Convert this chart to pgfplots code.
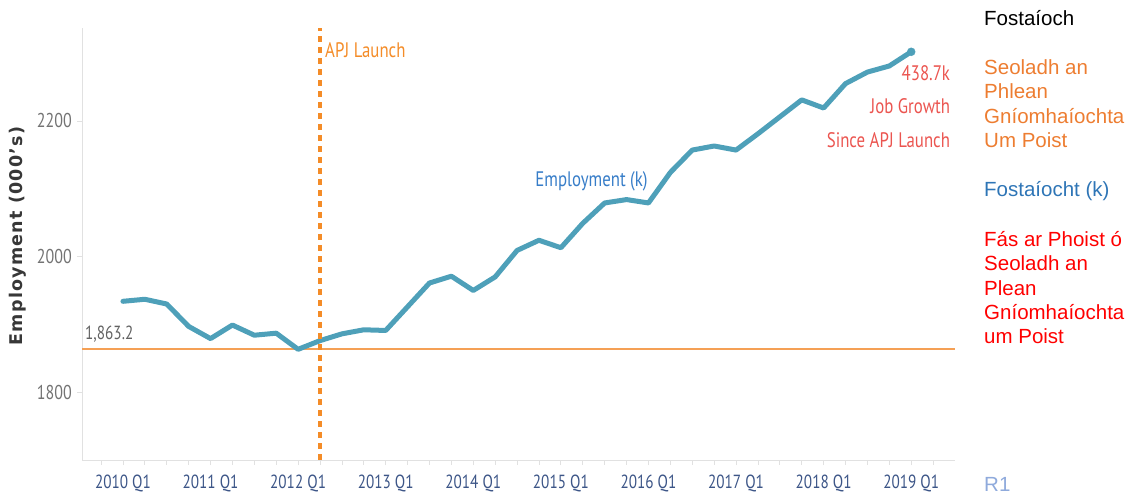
\documentclass[border=0pt]{standalone}
\usepackage{fontspec}
\usepackage{pgfplots}
\usepackage{pgfplotstable}
\pgfplotsset{compat=1.18}
\setmainfont{Liberation Sans}
\newfontfamily\tabfont[FakeStretch=0.8]{PT Sans}
\newfontfamily\ylabfont[LetterSpace=7]{DejaVu Sans}

\definecolor{tealline}{RGB}{78,160,185}
\definecolor{apjorange}{RGB}{244,140,40}
\definecolor{hlorange}{RGB}{245,160,85}
\definecolor{annred}{RGB}{235,85,80}
\definecolor{empblue}{RGB}{55,125,200}
\definecolor{ytickcol}{RGB}{115,115,115}
\definecolor{xtickcol}{RGB}{60,85,135}
\definecolor{axisgray}{RGB}{225,225,225}
\definecolor{ylabcol}{RGB}{55,55,55}
\definecolor{lgorange}{RGB}{237,125,49}
\definecolor{lgblue}{RGB}{46,117,182}
\definecolor{lgred}{RGB}{255,0,0}
\definecolor{rone}{RGB}{143,170,220}

\pgfplotstableread{
q emp
0 1934
1 1937
2 1930
3 1897
4 1879
5 1899
6 1884
7 1887
8 1863.2
9 1876
10 1886
11 1892
12 1891
13 1926
14 1961
15 1971
16 1950
17 1970
18 2009
19 2024
20 2013
21 2049
22 2079
23 2084
24 2079
25 2124
26 2157
27 2163
28 2157
29 2181
30 2206
31 2231
32 2219
33 2255
34 2272
35 2281
36 2301.9
}\empdata

\pgfplotstableread{
x y
-1.87 1863.2
38 1863.2
}\hline

\pgfplotstableread{
x y
9 1700
9 2337
}\vline

\begin{document}
\begin{tikzpicture}
\path[use as bounding box] (0,0) rectangle (1144bp,500bp);
\begin{axis}[
  at={(82bp,40bp)}, anchor=south west,
  width=873bp, height=432bp, scale only axis,
  xmin=-1.87, xmax=38, ymin=1700, ymax=2337,
  axis x line*=bottom, axis y line*=left,
  every outer x axis line/.append style={-},
  every outer y axis line/.append style={-},
  axis line style={draw=axisgray, line width=0.8bp},
  xtick={0,4,...,36},
  xticklabels={2010 Q1,2011 Q1,2012 Q1,2013 Q1,2014 Q1,2015 Q1,2016 Q1,2017 Q1,2018 Q1,2019 Q1},
  minor xtick={-1,0,...,37},
  ytick={1800,2000,2200}, yticklabels={1800,2000,2200},
  tick align=outside, major tick length=5bp, minor tick length=5bp,
  tick style={draw=axisgray, line width=0.8bp},
  xticklabel style={font=\tabfont\fontsize{19bp}{19bp}\selectfont, text=xtickcol, inner sep=0pt, yshift=-10bp},
  yticklabel style={font=\tabfont\fontsize{20bp}{20bp}\selectfont, text=ytickcol, inner sep=0pt, xshift=-5bp},
  clip=false,
]
\addplot[color=hlorange, solid, no marks, line width=2bp] table[x=x,y=y] {\hline};
\addplot[color=tealline, solid, no marks, line width=5bp, line join=round, line cap=round] table[x=q,y=emp] {\empdata};
\addplot[color=tealline, only marks, mark=*, mark size=4bp, mark options={fill=tealline, draw=tealline}] coordinates {(36,2301.9)};
\addplot[color=apjorange, no marks, line width=3.5bp, dash pattern=on 6bp off 5bp] table[x=x,y=y] {\vline};

\node[anchor=base west, inner sep=0pt, xshift=5bp, font=\tabfont\fontsize{21bp}{21bp}\selectfont, text=apjorange] at (axis cs:9,2293) {APJ Launch};
\node[anchor=base west, inner sep=0pt, xshift=3bp, yshift=10bp, font=\tabfont\fontsize{19bp}{19bp}\selectfont, text=ytickcol!85!black] at (axis cs:-1.87,1863.2) {1,863.2};
\node[anchor=base, inner sep=0pt, font=\tabfont\fontsize{21bp}{21bp}\selectfont, text=empblue] at (axis cs:21.4,2103) {Employment (k)};
\node[anchor=base east, inner sep=0pt, font=\tabfont\fontsize{21bp}{21bp}\selectfont, text=annred] at (axis cs:37.78,2259.2) {438.7k};
\node[anchor=base east, inner sep=0pt, font=\tabfont\fontsize{21bp}{21bp}\selectfont, text=annred] at (axis cs:37.78,2210.2) {Job Growth};
\node[anchor=base east, inner sep=0pt, font=\tabfont\fontsize{21bp}{21bp}\selectfont, text=annred] at (axis cs:37.78,2161.0) {Since APJ Launch};
\end{axis}

\node[rotate=90, inner sep=0pt, font=\ylabfont\bfseries\fontsize{17.5bp}{17.5bp}\selectfont, text=ylabcol] at (18bp,264bp) {Employment (000’s)};

\begin{scope}[every node/.style={anchor=base west, inner sep=0pt, font=\fontsize{20.5bp}{24bp}\selectfont}]
\node[text=black] at (984bp,474bp) {Fostaíoch};
\node[text=lgorange] at (984bp,425bp) {Seoladh an};
\node[text=lgorange] at (984bp,401bp) {Phlean};
\node[text=lgorange] at (984bp,376.7bp) {Gníomhaíochta};
\node[text=lgorange] at (984bp,352.3bp) {Um Poist};
\node[text=lgblue] at (984bp,303.3bp) {Fostaíocht (k)};
\node[text=lgred] at (984bp,253.3bp) {Fás ar Phoist ó};
\node[text=lgred] at (984bp,229bp) {Seoladh an};
\node[text=lgred] at (984bp,204.7bp) {Plean};
\node[text=lgred] at (984bp,180.7bp) {Gníomhaíochta};
\node[text=lgred] at (984bp,156bp) {um Poist};
\node[text=rone] at (984bp,9bp) {R1};
\end{scope}
\end{tikzpicture}
\end{document}
